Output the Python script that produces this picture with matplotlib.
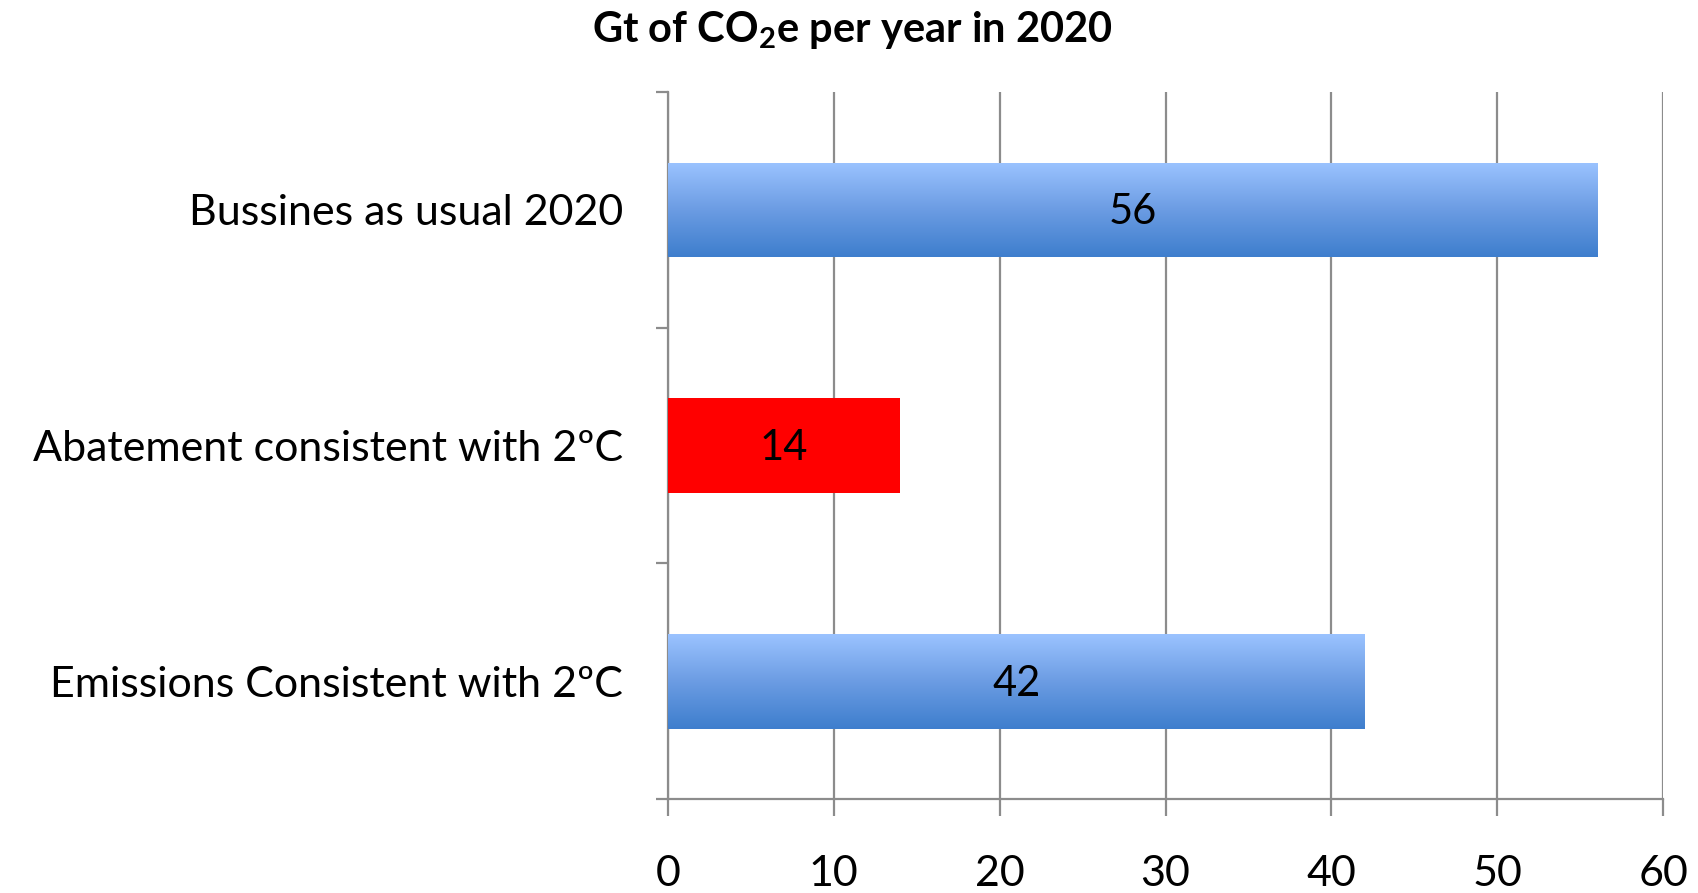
## Bar chart: Gt of CO2e per year in 2020
import numpy as np
import matplotlib.pyplot as plt
from matplotlib.colors import LinearSegmentedColormap

plt.rcParams['font.family'] = ['Lato', 'DejaVu Sans']
plt.rcParams['mathtext.fontset'] = 'custom'
plt.rcParams['mathtext.rm'] = 'Lato'
plt.rcParams['mathtext.bf'] = 'Lato:bold'

## Data (top to bottom)
categories = ['Bussines as usual 2020', 'Abatement consistent with 2ºC',
    'Emissions Consistent with 2ºC']
values = [56, 14, 42]
gradient_bar = [True, False, True]
xticks = [0, 10, 20, 30, 40, 50, 60]

fig = plt.figure(figsize = (16.99, 8.93), dpi = 100)
ax = fig.add_axes([0.393, 0.105, 0.586, 0.792])

pos = np.arange(len(categories))[::-1]
bars = ax.barh(pos, values, height = 0.4, color = '#ff0000', zorder = 3)

## Blue gradient fill for the blue bars
blue = LinearSegmentedColormap.from_list('blue', ['#3e7ecd', '#6b9ce3', '#9bc3ff'])
grad = np.linspace(0, 1, 256).reshape(-1, 1)
for b, g in zip(bars, gradient_bar):
    if not g:
        continue
    b.set_facecolor('none')
    x0, y0 = b.get_x(), b.get_y()
    im = ax.imshow(grad, cmap = blue, aspect = 'auto', origin = 'lower',
        extent = [x0, x0 + b.get_width(), y0, y0 + b.get_height()], zorder = 3)
    im.set_clip_path(b)

## Value labels
for p, v in zip(pos, values):
    ax.text(v / 2, p - 0.01, str(v), ha = 'center', va = 'center', fontsize = 30,
        color = 'black', zorder = 4)

ax.set_xlim(0, 60)
ax.set_ylim(-0.5, 2.5)
ax.set_xticks(xticks)
ax.set_xticklabels([str(t) for t in xticks], fontsize = 31)
ax.xaxis.grid(True, color = '#8c8c8c', linewidth = 1.6, zorder = 0)
ax.set_axisbelow(True)

## Category boundaries as major y ticks, labels on minor ticks
ax.set_yticks([-0.5, 0.5, 1.5, 2.5])
ax.set_yticklabels([])
ax.set_yticks(pos, minor = True)
ax.set_yticklabels(categories, minor = True, fontsize = 31)
ax.tick_params(axis = 'y', which = 'major', length = 9, width = 1.6,
    color = '#8c8c8c', direction = 'out')
ax.tick_params(axis = 'y', which = 'minor', length = 0, pad = 32)
ax.tick_params(axis = 'x', length = 12, width = 1.6, color = '#8c8c8c', pad = 28)

for s in ['top', 'right']:
    ax.spines[s].set_visible(False)
for s in ['left', 'bottom']:
    ax.spines[s].set_color('#8c8c8c')
    ax.spines[s].set_linewidth(1.6)

fig.text(0.502, 0.966, r'Gt of CO$_\mathbf{2}$e per year in 2020', ha = 'center',
    va = 'center', fontsize = 30, fontweight = 'bold')

fig.savefig('out.png', dpi = 100)
